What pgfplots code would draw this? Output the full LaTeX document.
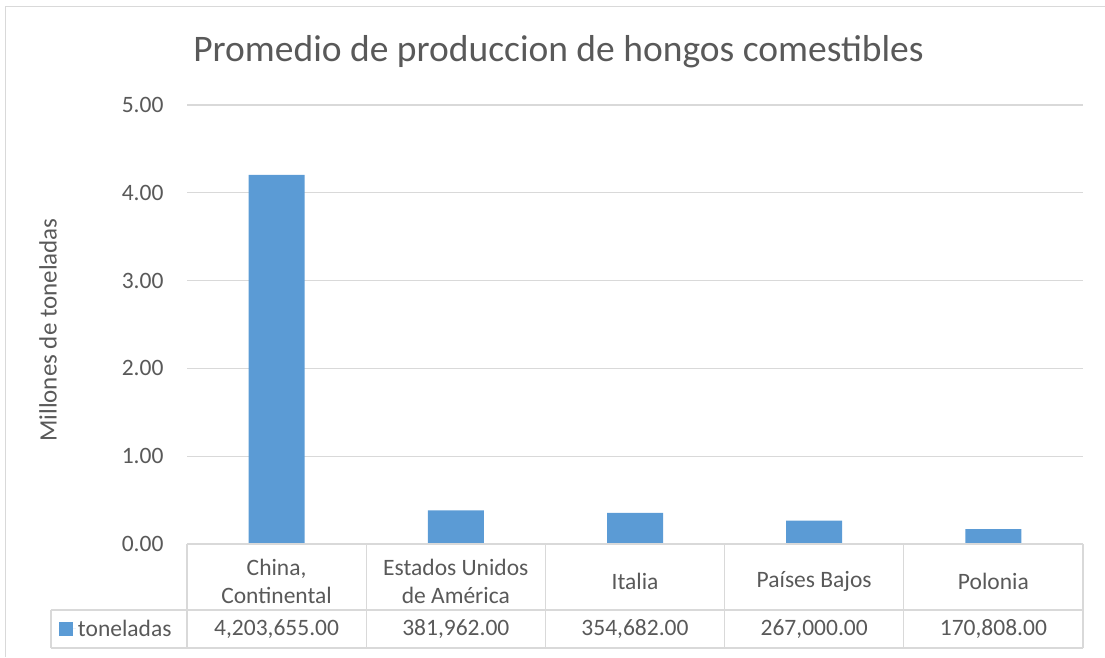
\documentclass[border=0pt]{standalone}
\usepackage{fontspec}
\setmainfont{Carlito}
\usepackage{pgfplots}
\pgfplotsset{compat=1.18}
\definecolor{txt}{HTML}{595959}
\definecolor{barc}{HTML}{5B9BD5}
\definecolor{gridc}{HTML}{D9D9D9}
\tikzset{tl/.style={gridc, line width=1.2pt}, tv/.style={text=txt, font=\fontsize{23.5}{28}\selectfont, anchor=center}}
\begin{document}
\begin{tikzpicture}[x=1pt,y=1pt]
\useasboundingbox (0,0) rectangle (1105,657);
% outer border (top and left)
\draw[gridc, line width=1.2pt] (5.5,0) -- (5.5,650.5) -- (1105,650.5);
% title
\node[text=txt, font=\fontsize{37.5}{44}\selectfont, anchor=base, inner sep=0pt] at (558.5,595) {Promedio de produccion de hongos comestibles};
% y label
\node[text=txt, font=\fontsize{25}{30}\selectfont, rotate=90, anchor=center] at (48,327) {Millones de toneladas};
\begin{axis}[
  at={(187pt,113pt)}, anchor=south west,
  scale only axis, width=896pt, height=439pt,
  xmin=-0.5, xmax=4.5, ymin=0, ymax=5,
  ybar, bar width=56pt,
  axis line style={draw=none},
  tick style={draw=none},
  ytick={0,1,2,3,4,5},
  ymajorgrids, grid style={gridc, line width=1.2pt},
  yticklabel style={text=txt, font=\fontsize{23.5}{28}\selectfont, anchor=east, xshift=-20pt,
    /pgf/number format/fixed, /pgf/number format/fixed zerofill, /pgf/number format/precision=2,
    /pgf/number format/assume math mode=true},
  xtick={0,1,2,3,4},
  xticklabels={{China,\\Continental},{Estados Unidos\\de América},{Italia},{Países Bajos},{Polonia}},
  xticklabel style={text=txt, font=\fontsize{23.5}{28.5}\selectfont, align=center, anchor=center, yshift=-33pt},
  legend style={at={(axis description cs:-0.1429,-0.1936)}, anchor=west, draw=none, fill=none,
    text=txt, font=\fontsize{23.5}{28}\selectfont, inner sep=0pt, outer sep=0pt},
  legend cell align=left,
  legend image code/.code={\fill[barc] (0pt,-7pt) rectangle (14pt,7pt); \path (0pt,0pt) -- (17pt,0pt);},
  clip=false,
]
\addplot[fill=barc, draw=none, bar shift=0pt] coordinates {(0,4.203655) (1,0.381962) (2,0.354682) (3,0.267000) (4,0.170808)};
\addlegendentry{toneladas}
% table lines
\draw[tl] (axis cs:-0.5,0) -- (axis cs:4.5,0);
\draw[tl] ([xshift=-136pt,yshift=-66pt]axis cs:-0.5,0) -- ([yshift=-66pt]axis cs:4.5,0);
\draw[tl] ([xshift=-136pt,yshift=-104pt]axis cs:-0.5,0) -- ([yshift=-104pt]axis cs:4.5,0);
\draw[tl] ([xshift=-136pt,yshift=-66pt]axis cs:-0.5,0) -- ([xshift=-136pt,yshift=-104pt]axis cs:-0.5,0);
\draw[tl] (axis cs:-0.5,0) -- ([yshift=-104pt]axis cs:-0.5,0);
\draw[tl] (axis cs:0.5,0) -- ([yshift=-104pt]axis cs:0.5,0);
\draw[tl] (axis cs:1.5,0) -- ([yshift=-104pt]axis cs:1.5,0);
\draw[tl] (axis cs:2.5,0) -- ([yshift=-104pt]axis cs:2.5,0);
\draw[tl] (axis cs:3.5,0) -- ([yshift=-104pt]axis cs:3.5,0);
\draw[tl] (axis cs:4.5,0) -- ([yshift=-104pt]axis cs:4.5,0);
% values row
\node[tv] at ([yshift=-85pt]axis cs:0,0) {4,203,655.00};
\node[tv] at ([yshift=-85pt]axis cs:1,0) {381,962.00};
\node[tv] at ([yshift=-85pt]axis cs:2,0) {354,682.00};
\node[tv] at ([yshift=-85pt]axis cs:3,0) {267,000.00};
\node[tv] at ([yshift=-85pt]axis cs:4,0) {170,808.00};
\end{axis}
\end{tikzpicture}
\end{document}
